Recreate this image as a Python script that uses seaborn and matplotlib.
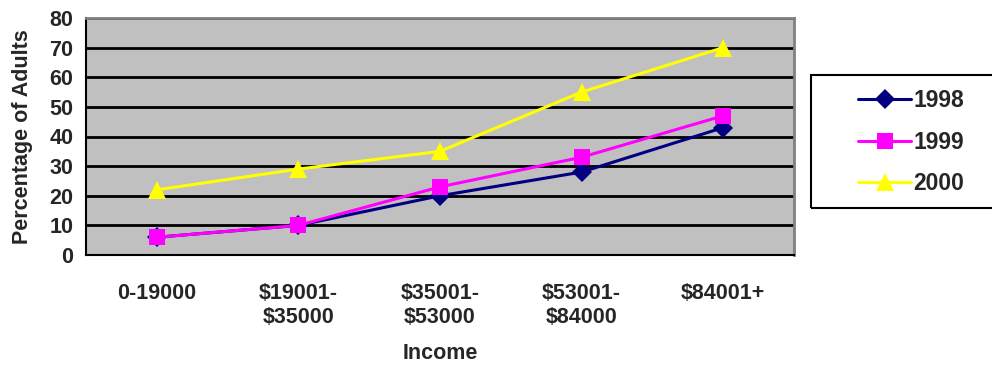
import matplotlib
matplotlib.use("Agg")
import matplotlib.pyplot as plt
from matplotlib.patches import Rectangle
import pandas as pd
import seaborn as sns

income = ["0-19000", "$19001-\n$35000", "$35001-\n$53000", "$53001-\n$84000", "$84001+"]
years = ["1998", "1999", "2000"]
pct_1998 = [6, 10, 20, 28, 43]
pct_1999 = [6, 10, 23, 33, 47]
pct_2000 = [22, 29, 35, 55, 70]
colors = ["#000080", "#FF00FF", "#FFFF00"]
markers = ["D", "s", "^"]
msizes = [10, 11, 12.5]

df = pd.DataFrame({
    "Income": income * 3,
    "pct": pct_1998 + pct_1999 + pct_2000,
    "year": [y for y in years for _ in income],
})

sns.set_style("white")
plt.rcParams["font.family"] = ["Liberation Sans", "DejaVu Sans"]
plt.rcParams["font.weight"] = "bold"
fs = 15.5

fig = plt.figure(figsize=(9.92, 3.67), dpi=100)
ax = fig.add_axes([86 / 992, 1 - 255 / 367, (794 - 86) / 992, (255 - 18) / 367])
ax.set_facecolor("#C0C0C0")

sns.pointplot(data=df, x="Income", y="pct", hue="year", palette=colors,
              markers=markers, linestyles="-", errorbar=None, ax=ax,
              markersize=11, linewidth=2.2)

handles = ax.get_legend().legend_handles
ax.get_legend().remove()

for line, ms, c in zip(ax.lines, msizes, colors):
    line.set_markersize(ms)
    line.set_markeredgewidth(0)
    line.set_markerfacecolor(c)
for h, ms in zip(handles, msizes):
    h.set_markersize(ms)
    h.set_markeredgewidth(0)
    h.set_linewidth(2.2)

ax.set_ylim(0, 80)
ax.set_yticks(range(0, 81, 10))
ax.set_yticklabels([str(v) for v in range(0, 81, 10)], fontsize=fs, fontweight="bold")
ax.set_xlim(-0.5, 4.5)
ax.set_xticks([i - 0.5 for i in range(6)])
ax.set_xticklabels([])
ax.set_xticks(range(5), minor=True)
ax.set_xticklabels(income, minor=True, fontsize=fs, fontweight="bold")
ax.tick_params(axis="x", which="minor", length=0, pad=20)
ax.tick_params(axis="x", which="major", length=6, width=1.5, direction="out", color="black")
ax.tick_params(axis="y", length=6, width=1.5, direction="out", color="black", pad=3)
ax.yaxis.grid(True, color="black", linewidth=2)
ax.set_axisbelow(True)

for s in ["top", "right"]:
    ax.spines[s].set_color("#808080")
    ax.spines[s].set_linewidth(2)
for s in ["left", "bottom"]:
    ax.spines[s].set_color("black")
    ax.spines[s].set_linewidth(1.5)

ax.set_xlabel("Income", fontsize=fs, fontweight="bold", labelpad=11)
ax.set_ylabel("Percentage of Adults", fontsize=fs, fontweight="bold", labelpad=12)

fig.patches.append(Rectangle((811 / 992, 1 - 208 / 367), 200 / 992, 133 / 367,
                             transform=fig.transFigure, fill=False,
                             edgecolor="black", linewidth=1.5))
fig.legend(handles, years, loc="upper left",
           bbox_to_anchor=(847 / 992, 1 - 78 / 367), frameon=False,
           prop={"size": 16.5, "weight": "bold"}, handlelength=2.3,
           handletextpad=0.1, labelspacing=0.8, borderpad=0)

fig.savefig("out.png", dpi=100)
